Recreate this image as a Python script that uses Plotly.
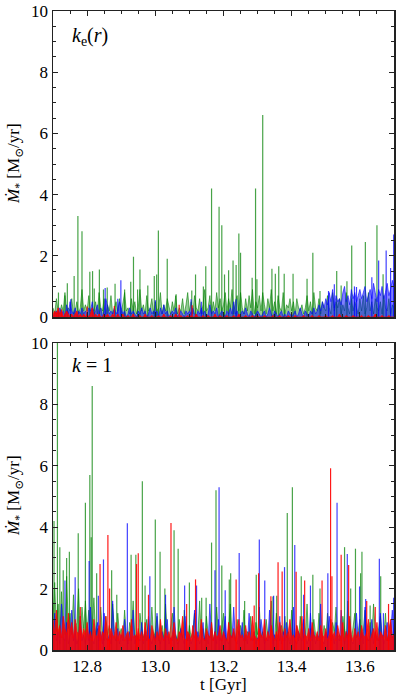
import plotly.graph_objects as go

# ---------------- data ----------------
T_START = 12.7
DT = 0.005          # sampling step of the dense background series [Gyr]

# top panel (k_e(r)) : dense low-level background, 201 samples 12.700 ... 13.700
top_green_base = [
    0.3,0.1,0.6,0.2,0.1,0.4,0.2,0.8,0.1,0.3,0.2,0.6,0.1,0.2,0.5,0.1,0.3,0.9,0.2,0.4,
    0.2,0.7,0.1,0.3,0.2,0.5,0.1,0.8,0.3,0.2,0.6,0.1,0.4,0.2,0.7,0.1,0.3,0.5,0.2,0.6,
    0.1,0.4,0.8,0.2,0.3,0.1,0.6,0.2,0.5,0.1,0.3,0.9,0.2,0.4,0.1,0.7,0.2,0.3,0.6,0.1,
    0.5,0.2,0.3,0.8,0.1,0.4,0.2,0.6,0.3,0.1,0.5,0.2,0.7,0.1,0.3,0.2,0.6,0.1,0.4,0.8,
    0.2,0.5,0.1,0.7,0.3,0.2,0.6,0.1,0.4,0.9,0.2,0.3,0.7,0.1,0.5,0.2,0.8,0.3,0.6,0.2,
    0.4,0.8,0.2,0.6,0.3,0.9,0.1,0.5,0.7,0.2,0.8,0.3,0.1,0.6,0.2,0.7,0.3,0.9,0.1,0.5,
    0.3,0.7,0.2,0.8,0.4,0.1,0.6,0.3,0.9,0.2,0.5,0.1,0.7,0.3,0.2,0.8,0.1,0.4,0.3,0.6,
    0.2,0.5,0.1,0.6,0.3,0.2,0.4,0.1,0.3,0.7,0.2,0.5,0.1,0.8,0.3,0.2,0.6,0.1,0.5,0.3,
    0.2,0.7,0.3,0.1,0.8,0.2,0.5,0.3,0.6,0.1,0.4,0.2,0.8,0.3,0.1,0.6,0.2,0.5,0.3,0.1,
    0.6,0.2,0.7,0.1,0.3,0.8,0.2,0.5,0.1,0.6,0.3,0.2,0.5,0.1,0.7,0.3,0.2,0.6,0.1,0.4,
    0.3]
top_blue_base = [
    0.0,0.1,0.2,0.1,0.3,0.1,0.2,0.0,0.4,0.1,0.5,0.2,0.1,0.3,0.0,0.2,0.1,0.3,0.1,0.2,
    0.1,0.3,0.2,0.5,0.1,0.2,0.4,0.1,0.3,0.0,0.2,0.6,0.3,0.1,0.2,0.1,0.3,0.1,0.2,0.5,
    0.3,0.1,0.2,0.0,0.1,0.3,0.1,0.2,0.1,0.0,0.2,0.1,0.3,0.1,0.2,0.0,0.1,0.3,0.1,0.2,
    0.1,0.2,0.0,0.3,0.1,0.4,0.1,0.2,0.0,0.1,0.2,0.1,0.3,0.0,0.1,0.2,0.1,0.0,0.2,0.1,
    0.2,0.1,0.3,0.1,0.0,0.2,0.1,0.3,0.1,0.2,0.0,0.1,0.4,0.1,0.2,0.1,0.3,0.0,0.1,0.2,
    0.1,0.0,0.2,0.1,0.3,0.1,0.5,0.1,0.2,0.0,0.1,0.2,0.1,0.3,0.1,0.0,0.2,0.1,0.0,0.1,
    0.2,0.1,0.0,0.1,0.2,0.0,0.1,0.3,0.1,0.0,0.2,0.1,0.0,0.1,0.2,0.0,0.1,0.0,0.2,0.1,
    0.0,0.1,0.2,0.0,0.1,0.3,0.1,0.0,0.2,0.1,0.0,0.2,0.1,0.3,0.1,0.2,0.4,0.2,0.5,0.3,
    0.6,0.4,0.8,0.5,0.9,0.3,0.7,0.5,0.6,0.4,0.8,1.0,0.5,0.7,0.4,0.9,0.6,0.8,0.5,0.7,
    0.9,0.6,0.8,1.0,0.5,0.7,0.9,0.6,1.1,0.8,0.5,0.9,0.7,1.0,0.6,0.8,1.1,0.7,0.9,1.2,
    1.0]
top_red_base = [
    0.1,0.2,0.1,0.3,0.1,0.2,0.0,0.1,0.2,0.1,0.0,0.1,0.0,0.1,0.2,0.0,0.1,0.0,0.1,0.0,
    0.1,0.0,0.1,0.3,0.0,0.1,0.0,0.1,0.0,0.0,0.1,0.0,0.1,0.0,0.0,0.1,0.0,0.0,0.1,0.0,
    0.0,0.1,0.0,0.0,0.05,0.0,0.0,0.1,0.0,0.0,0.0,0.05,0.0,0.0,0.1,0.0,0.0,0.0,0.05,0.0,
    0.0,0.0,0.05,0.0,0.0,0.1,0.0,0.0,0.0,0.05,0.0,0.0,0.1,0.0,0.0,0.05,0.0,0.0,0.0,0.05,
    0.0,0.05,0.0,0.0,0.1,0.0,0.0,0.0,0.05,0.0,0.0,0.05,0.0,0.0,0.0,0.1,0.0,0.0,0.05,0.0,
    0.0,0.0,0.05,0.0,0.0,0.0,0.05,0.0,0.0,0.1,0.0,0.0,0.0,0.05,0.0,0.0,0.0,0.05,0.0,0.0,
    0.05,0.0,0.0,0.0,0.05,0.0,0.0,0.0,0.0,0.05,0.0,0.0,0.0,0.05,0.0,0.0,0.0,0.0,0.05,0.0,
    0.0,0.0,0.05,0.0,0.0,0.0,0.0,0.05,0.0,0.0,0.0,0.0,0.05,0.0,0.0,0.0,0.05,0.0,0.0,0.0,
    0.05,0.0,0.0,0.0,0.05,0.0,0.0,0.0,0.1,0.0,0.0,0.0,0.05,0.0,0.0,0.0,0.05,0.0,0.0,0.0,
    0.0,0.05,0.0,0.0,0.0,0.05,0.0,0.0,0.0,0.1,0.0,0.0,0.0,0.05,0.0,0.0,0.0,0.05,0.0,0.0,
    0.0]

# top panel individual bursts (time [Gyr], SFR [Msun/yr])
top_green_spike_t = [12.716,12.735,12.742,12.762,12.773,12.785,12.808,12.816,12.821,12.836,
                     12.848,12.859,12.882,12.910,12.928,12.936,12.948,12.955,12.978,12.997,
                     13.004,13.009,13.035,13.061,13.107,13.118,13.141,13.148,13.165,13.187,
                     13.195,13.203,13.215,13.228,13.237,13.245,13.250,13.284,13.294,13.298,
                     13.315,13.342,13.352,13.362,13.378,13.404,13.445,13.462,13.483,13.532,
                     13.545,13.562,13.576,13.616,13.650,13.668]
top_green_spike_v = [0.80,0.70,1.10,1.34,3.30,2.80,1.48,1.50,0.93,1.55,
                     0.90,0.96,1.09,0.90,1.15,1.97,0.90,1.55,1.03,1.34,
                     1.39,2.83,1.90,0.74,0.87,1.39,1.00,1.66,4.20,3.60,
                     3.00,1.39,1.53,1.85,1.70,2.73,2.10,1.28,4.20,1.23,
                     6.60,1.58,1.41,1.66,1.41,1.41,1.25,2.10,0.85,1.50,
                     1.03,1.17,2.34,2.45,3.00,1.40]
top_blue_spike_t = [12.752,12.853,12.890,12.899,13.000,13.105,13.135,13.237,13.508,13.525,
                    13.584,13.590,13.635,13.655,13.677,13.690,13.699]
top_blue_spike_v = [0.58,0.95,0.60,1.20,0.55,0.58,0.50,0.58,0.85,1.07,
                    1.00,0.98,1.30,1.85,2.17,1.60,2.70]
top_red_spike_t = [12.711,12.725,12.800,12.880,13.070,13.108]
top_red_spike_v = [0.15,0.25,0.34,0.36,0.40,0.38]

# bottom panel (k = 1) : dense background, 201 samples 12.700 ... 13.700
bot_green_base = [
    1.0,2.2,0.6,1.5,0.4,1.9,0.8,0.5,2.4,0.7,1.2,0.5,1.8,0.6,0.9,2.0,0.5,1.4,0.7,1.6,
    0.6,1.3,0.4,0.8,1.7,0.5,0.7,0.4,1.4,0.6,0.3,1.1,0.5,0.8,0.4,1.5,0.6,0.3,1.2,0.5,
    0.7,0.4,1.3,0.5,0.3,0.9,0.6,1.6,0.4,0.5,0.3,1.2,0.7,0.4,0.6,1.0,0.3,0.5,1.4,0.4,
    0.6,1.1,0.3,0.5,0.8,0.4,1.5,0.6,0.3,0.7,1.2,0.4,0.5,0.3,1.0,0.6,0.4,1.3,0.5,0.3,
    0.8,0.4,0.6,1.2,0.3,0.5,1.6,0.4,0.7,0.3,1.1,0.5,0.4,0.9,0.3,0.6,1.4,0.5,0.3,0.7,
    1.2,0.5,0.3,0.7,1.5,0.4,0.6,0.3,1.0,0.5,0.8,0.4,1.3,0.3,0.6,0.5,1.1,0.4,0.3,0.9,
    0.5,1.4,0.4,0.6,0.3,1.0,0.5,0.7,1.6,0.3,0.4,1.2,0.6,0.3,0.8,0.5,1.1,0.4,0.6,0.3,
    1.3,0.5,0.4,0.8,0.3,1.1,0.6,0.4,0.5,1.5,0.3,0.7,0.4,1.0,0.5,0.3,1.2,0.6,0.4,0.8,
    0.4,1.2,0.5,0.3,0.9,0.6,1.4,0.4,0.5,0.3,1.1,0.7,0.4,1.6,0.5,0.3,0.8,1.2,0.4,0.6,
    1.0,0.4,0.6,1.3,0.3,0.5,0.9,0.4,1.5,0.6,0.3,0.7,1.1,0.4,0.5,1.2,0.3,0.6,0.9,0.4,
    0.5]
bot_blue_base = [
    0.4,1.2,0.3,0.6,0.2,1.5,0.4,0.3,0.9,0.2,0.5,1.3,0.3,0.6,0.2,0.4,1.1,0.3,0.5,0.2,
    0.6,0.3,1.4,0.4,0.2,0.5,0.9,0.3,0.6,0.2,1.2,0.4,0.3,0.5,0.2,1.6,0.4,0.3,0.7,0.2,
    0.5,0.3,1.0,0.4,0.2,0.6,0.3,1.3,0.2,0.5,0.4,0.3,0.9,0.2,0.6,0.3,1.1,0.4,0.2,0.5,
    0.3,1.2,0.4,0.2,0.6,0.3,0.5,1.0,0.2,0.4,0.3,1.4,0.5,0.2,0.3,0.7,0.4,0.2,1.1,0.3,
    0.5,0.2,0.4,1.3,0.3,0.6,0.2,0.4,0.9,0.3,0.5,0.2,1.5,0.4,0.3,0.6,0.2,1.0,0.4,0.3,
    0.6,1.1,0.3,0.2,0.5,0.4,1.4,0.3,0.2,0.6,0.4,0.9,0.3,0.5,0.2,1.2,0.4,0.3,0.6,0.2,
    0.4,0.3,1.0,0.5,0.2,0.4,0.3,1.3,0.6,0.2,0.5,0.3,0.4,1.1,0.2,0.6,0.3,0.9,0.4,0.2,
    0.5,1.4,0.3,0.2,0.6,0.4,0.3,1.0,0.5,0.2,0.4,1.2,0.3,0.6,0.2,0.5,0.4,1.5,0.3,0.2,
    0.6,0.4,1.1,0.3,0.5,0.2,0.9,0.4,0.3,1.3,0.5,0.2,0.6,0.4,1.0,0.3,0.2,0.5,1.2,0.4,
    0.3,0.6,0.2,1.4,0.4,0.3,0.5,1.0,0.2,0.6,0.4,0.3,1.2,0.5,0.2,0.4,0.9,0.3,0.6,1.3,
    0.4]
bot_red_base = [
    1.0,0.5,1.3,0.6,0.8,0.4,1.1,0.7,0.5,1.2,0.6,0.9,0.4,1.0,0.6,0.5,1.1,0.4,0.7,0.5,
    0.9,0.4,0.6,0.3,1.0,0.5,0.4,0.8,0.3,0.6,0.5,1.1,0.4,0.3,0.7,0.5,0.4,0.9,0.3,0.6,
    0.4,0.8,0.3,0.5,0.6,0.3,1.0,0.4,0.5,0.3,0.7,0.4,0.6,0.3,0.9,0.5,0.4,0.3,0.8,0.5,
    0.3,0.6,0.4,1.0,0.5,0.3,0.7,0.4,0.6,0.3,0.5,0.9,0.4,0.3,0.6,0.5,1.1,0.4,0.3,0.6,
    0.5,0.3,0.8,0.4,0.6,0.3,0.5,1.0,0.4,0.3,0.7,0.5,0.4,0.9,0.3,0.6,0.4,0.5,0.8,0.3,
    0.6,0.4,0.3,0.9,0.5,0.4,0.7,0.3,0.6,1.0,0.4,0.5,0.3,0.8,0.4,0.6,0.3,1.1,0.5,0.4,
    0.3,0.7,0.5,0.4,1.0,0.3,0.6,0.4,0.8,0.5,0.3,0.6,0.4,0.9,0.5,0.3,0.7,0.4,0.6,1.0,
    0.4,0.5,0.3,0.8,0.6,0.4,1.1,0.3,0.5,0.4,0.7,0.3,0.9,0.5,0.4,0.6,0.3,0.8,0.5,0.4,
    0.7,0.3,0.5,1.0,0.4,0.6,0.3,0.8,0.5,0.4,0.9,0.3,0.6,0.4,1.1,0.5,0.3,0.7,0.4,0.6,
    0.3,0.8,0.5,0.4,0.6,1.0,0.3,0.5,0.7,0.4,0.9,0.3,0.6,0.5,0.4,0.8,0.3,0.6,1.0,0.4,
    0.5]

bot_green_spike_t = [12.703,12.713,12.720,12.730,12.740,12.748,12.774,12.795,12.808,12.812,
                     12.815,12.828,12.872,12.887,12.929,12.943,12.962,12.970,13.000,13.014,
                     13.028,13.055,13.067,13.100,13.136,13.149,13.165,13.178,13.195,13.217,
                     13.221,13.262,13.296,13.345,13.356,13.387,13.402,13.428,13.462,13.483,
                     13.555,13.573,13.587,13.602,13.606,13.630,13.661]
bot_green_spike_v = [4.20,10.0,3.35,2.60,3.00,3.20,3.80,4.80,5.70,3.67,
                     8.60,2.50,2.60,1.80,3.10,3.10,5.50,2.10,4.25,3.20,
                     2.00,3.90,3.30,2.20,1.70,1.70,3.50,5.20,2.75,2.30,
                     2.50,1.60,2.45,1.74,1.77,4.46,5.30,2.40,2.45,2.00,
                     3.35,2.00,3.30,2.50,3.20,1.45,2.40]
bot_blue_spike_t = [12.735,12.765,12.806,12.833,12.848,12.918,12.984,13.030,13.086,13.121,
                    13.175,13.187,13.205,13.246,13.305,13.321,13.347,13.379,13.409,13.435,
                    13.455,13.506,13.533,13.563,13.599,13.617,13.657,13.669,13.699]
bot_blue_spike_v = [2.26,2.37,2.90,1.77,2.95,4.13,2.40,1.80,2.10,2.10,
                    2.60,5.30,1.95,3.16,3.60,2.26,1.77,2.70,3.42,1.80,
                    2.10,2.50,4.80,3.13,2.07,1.66,2.97,1.20,1.70]
bot_red_spike_t = [12.780,12.838,12.861,12.866,12.945,12.950,12.980,13.046,13.092,13.118,
                   13.237,13.290,13.303,13.339,13.360,13.372,13.413,13.438,13.489,13.514,
                   13.518,13.545,13.567,13.620,13.645,13.684]
bot_red_spike_v = [1.40,2.80,3.75,2.00,2.80,3.15,1.80,4.14,1.50,2.30,
                   2.30,1.45,2.50,1.75,2.86,2.56,2.55,2.26,2.26,5.92,
                   2.40,3.10,2.77,1.60,1.40,1.50]

X_TICKS = [12.8, 13.0, 13.2, 13.4, 13.6]
Y_TICKS = [0, 2, 4, 6, 8, 10]

# ---------------- styling ----------------
FONT = "Liberation Serif, Times New Roman, DejaVu Serif, serif"
COL = {
    "green": ("rgba(0,128,0,0.72)", "rgba(0,128,0,0.42)"),
    "blue": ("rgba(0,0,255,0.75)", "rgba(0,0,255,0.5)"),
    "red": ("rgba(255,0,0,0.9)", "rgba(255,0,0,0.85)"),
}

t_grid = [round(T_START + DT * i, 3) for i in range(len(top_green_base))]

fig = go.Figure()


def add_series(base, st, sv, color, xa, ya):
    line_c, fill_c = COL[color]
    fig.add_trace(go.Scatter(x=t_grid, y=base, mode="lines", fill="tozeroy",
                             line=dict(color=line_c, width=0.8), fillcolor=fill_c,
                             xaxis=xa, yaxis=ya, showlegend=False, hoverinfo="skip"))
    xs, ys = [], []
    for t, v in zip(st, sv):
        xs += [t, t, None]
        ys += [0, v, None]
    fig.add_trace(go.Scatter(x=xs, y=ys, mode="lines",
                             line=dict(color=line_c, width=1.2),
                             xaxis=xa, yaxis=ya, showlegend=False, hoverinfo="skip"))


add_series(top_green_base, top_green_spike_t, top_green_spike_v, "green", "x", "y")
add_series(top_blue_base, top_blue_spike_t, top_blue_spike_v, "blue", "x", "y")
add_series(top_red_base, top_red_spike_t, top_red_spike_v, "red", "x", "y")
add_series(bot_green_base, bot_green_spike_t, bot_green_spike_v, "green", "x2", "y2")
add_series(bot_blue_base, bot_blue_spike_t, bot_blue_spike_v, "blue", "x2", "y2")
add_series(bot_red_base, bot_red_spike_t, bot_red_spike_v, "red", "x2", "y2")

W, H = 399, 698
L, R, T, B = 53, 5, 11, 48
plot_h = H - T - B
top_dom = [(650 - 317) / plot_h, 1.0]
bot_dom = [0.0, (650 - 343) / plot_h]

axis_common = dict(showline=True, linecolor="#222", linewidth=1.5, mirror="allticks",
                   ticks="inside", ticklen=5, tickwidth=1, tickcolor="#222",
                   showgrid=False, zeroline=False, automargin=False,
                   tickfont=dict(family=FONT, size=17, color="black"))
xcommon = dict(axis_common, range=[12.7, 13.7], tickvals=X_TICKS,
               ticktext=[f"{v:.1f}" for v in X_TICKS],
               minor=dict(dtick=0.05, tick0=12.7, ticks="inside", ticklen=3,
                          tickcolor="#222", showgrid=False))
ycommon = dict(axis_common, range=[0, 10], tickvals=Y_TICKS,
               minor=dict(dtick=0.5, tick0=0, ticks="inside", ticklen=3,
                          tickcolor="#222", showgrid=False))

fig.update_layout(
    width=W, height=H,
    margin=dict(l=L, r=R, t=T, b=B, autoexpand=False),
    paper_bgcolor="white", plot_bgcolor="white",
    xaxis=dict(xcommon, anchor="y", showticklabels=False, domain=[0, 1]),
    yaxis=dict(ycommon, anchor="x", domain=top_dom),
    xaxis2=dict(xcommon, anchor="y2", domain=[0, 1]),
    yaxis2=dict(ycommon, anchor="x2", domain=bot_dom),
    font=dict(family=FONT, size=17, color="black"),
)

ylab = "<i>Ṁ</i><sub>*</sub> [M<sub>⊙</sub>/yr]"
pw = W - L - R
ann = [
    dict(text="<i>k</i><sub>e</sub>(<i>r</i>)", x=(70 - L) / pw, y=(650 - 36) / plot_h,
         xanchor="left", yanchor="middle", font=dict(size=20)),
    dict(text="<i>k</i> = 1", x=(70 - L) / pw, y=(650 - 365) / plot_h,
         xanchor="left", yanchor="middle", font=dict(size=20)),
    dict(text=ylab, x=(15 - L) / pw, y=(650 - 164) / plot_h, textangle=-90,
         xanchor="center", yanchor="middle", font=dict(size=17)),
    dict(text=ylab, x=(15 - L) / pw, y=(650 - 496) / plot_h, textangle=-90,
         xanchor="center", yanchor="middle", font=dict(size=17)),
    dict(text="t [Gyr]", x=(223 - L) / pw, y=(650 - 684) / plot_h,
         xanchor="center", yanchor="middle", font=dict(size=17)),
]
for a in ann:
    a.update(xref="paper", yref="paper", showarrow=False)
fig.update_layout(annotations=ann)

fig.write_html("out.html", config={"displayModeBar": False, "staticPlot": True},
               post_script="document.body.style.margin='0';")
